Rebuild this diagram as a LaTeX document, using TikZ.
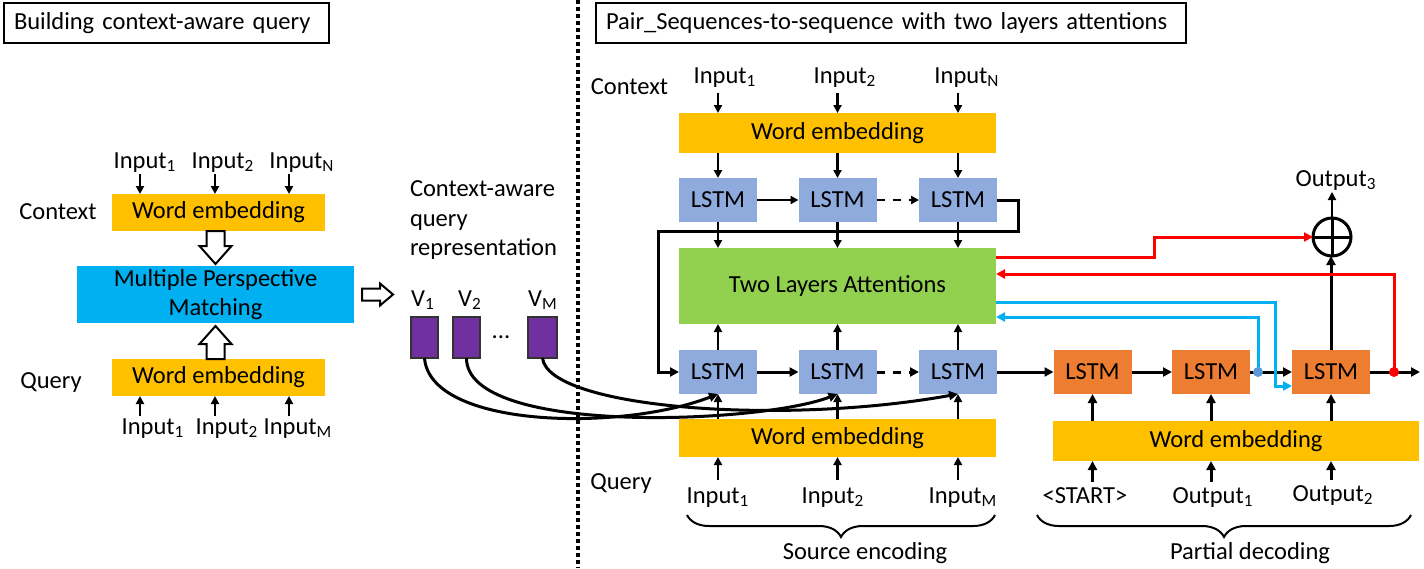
\documentclass[tikz,border=0pt]{standalone}
\usepackage{fontspec}
\setmainfont{Carlito}
\usetikzlibrary{arrows.meta,decorations.pathreplacing}
\definecolor{gold}{RGB}{255,192,0}
\definecolor{mpmblue}{RGB}{0,176,240}
\definecolor{lstmblue}{RGB}{143,170,220}
\definecolor{attgreen}{RGB}{146,208,80}
\definecolor{lstmorange}{RGB}{237,125,49}
\definecolor{vpurple}{RGB}{112,48,160}
\definecolor{cyanline}{RGB}{0,176,240}
\definecolor{dotblue}{RGB}{91,155,213}
\begin{document}
\begin{tikzpicture}[x=0.5pt,y=-0.5pt,
  font=\fontsize{12.25pt}{14.7pt}\selectfont,
  every node/.style={inner sep=0pt, outer sep=0pt},
  lab/.style={text height=9pt, text depth=3pt},
  ttl/.style={draw, line width=0.8pt, anchor=west, align=left, inner xsep=5pt, minimum height=20pt},
  we/.style={fill=gold},
  lb/.style={fill=lstmblue, minimum width=39pt, minimum height=22pt},
  lo/.style={fill=lstmorange, minimum width=39pt, minimum height=22pt},
  vbox/.style={fill=vpurple, draw=black!80, line width=0.6pt, minimum width=13.5pt, minimum height=20.5pt},
  arr/.style={line width=1.1pt, -{Triangle[length=4pt,width=4pt]}},
  tarr/.style={line width=1.5pt, -{Triangle[length=4.5pt,width=4.5pt]}},
  hol/.style={draw, line width=1pt, fill=white, line join=miter},
  rl/.style={draw=red, line width=1.5pt, -{Triangle[length=4.5pt,width=4.5pt]}},
  bl/.style={draw=cyanline, line width=1.5pt, -{Triangle[length=4.5pt,width=4.5pt]}},
  dsh/.style={dash pattern=on 4pt off 4pt},
  crv/.style={line width=1.5pt, -{Triangle[length=4.5pt,width=4.5pt]}},
  brc/.style={decorate, decoration={brace, mirror, amplitude=11pt}, line width=1pt},
]
\useasboundingbox (0,0) rectangle (1424,568);

% titles and separator
\node[ttl, text width=152.5pt] (tl) at (4,23) {Building context-aware query};
\node[ttl, text width=285pt] (tr) at (596,23) {Pair\_Sequences-to-sequence with two layers attentions};
\draw[line width=1.6pt, dash pattern=on 2pt off 1.5pt] (578,0) -- (578,568);

% ---------------- left panel ----------------
\node[lab] (ctxl) at (58,213) {Context};
\node[lab] (qryl) at (51,382) {Query};
\node[we, minimum width=106.5pt, minimum height=18.5pt] (wec) at (218.5,212.5) {Word embedding};
\node[we, minimum width=106.5pt, minimum height=18.5pt] (weq) at (218.5,377.5) {Word embedding};
\node[fill=mpmblue, minimum width=138.5pt, minimum height=28.5pt, align=center] (mpm) at (215.5,294.5) {Multiple Perspective\\Matching};

\node[lab] (ci1) at (145,162) {Input\textsubscript{1}};
\node[lab] (ci2) at (223,162) {Input\textsubscript{2}};
\node[lab] (ci3) at (302,162) {Input\textsubscript{N}};
\draw[arr] ([xshift=-2.5pt]ci1.south) -- ([xshift=-2.5pt]ci1.south |- wec.north);
\draw[arr] ([xshift=-4pt]ci2.south) -- ([xshift=-4pt]ci2.south |- wec.north);
\draw[arr] ([xshift=-6.5pt]ci3.south) -- ([xshift=-6.5pt]ci3.south |- wec.north);

\node[lab] (qi1) at (153,428) {Input\textsubscript{1}};
\node[lab] (qi2) at (227,428) {Input\textsubscript{2}};
\node[lab] (qi3) at (298,428) {Input\textsubscript{M}};
\draw[arr] ([xshift=-6.5pt]qi1.north) -- ([xshift=-6.5pt]qi1.north |- weq.south);
\draw[arr] ([xshift=-6pt]qi2.north) -- ([xshift=-6pt]qi2.north |- weq.south);
\draw[arr] ([xshift=-4.5pt]qi3.north) -- ([xshift=-4.5pt]qi3.north |- weq.south);

\coordinate (hd) at (mpm.north |- wec.south);
\draw[hol] ([xshift=-4.5pt]hd) -- ++(0,15) -- ++(-7,0) -- ++(16,18) -- ++(16,-18) -- ++(-7,0) -- ++(0,-15) -- cycle;
\coordinate (hu) at (mpm.south |- weq.north);
\draw[hol] ([xshift=-4.5pt]hu) -- ++(0,-15) -- ++(-7,0) -- ++(16,-18) -- ++(16,18) -- ++(-7,0) -- ++(0,15) -- cycle;
\draw[hol] ([xshift=4pt,yshift=3pt]mpm.east) -- ++(18,0) -- ++(0,-5) -- ++(13,11) -- ++(-13,11) -- ++(0,-5) -- ++(-18,0) -- cycle;

\node[anchor=north west, align=left] (car) at (410,181) {Context-aware\\query\\representation};
\node[lab] (vl1) at (423,300) {V\textsubscript{1}};
\node[lab] (vl2) at (470,300) {V\textsubscript{2}};
\node[lab] (vl3) at (543,300) {V\textsubscript{M}};
\node[vbox] (v1) at (424.5,337.5) {};
\node[vbox] (v2) at (466.5,337.5) {};
\node[vbox, minimum width=14.5pt] (vm) at (542.5,337.5) {};
\node[anchor=base] (dots) at (501,338) {...};

% ---------------- right panel ----------------
\node[lab] (ctxr) at (629.5,88) {Context};
\node[lab] (qryr) at (621,483) {Query};
\node[we, minimum width=158.5pt, minimum height=20pt] (weT) at (837.5,133) {Word embedding};
\node[lb] (a1) at (718,200) {LSTM};
\node[lb] (a2) at (837.5,200) {LSTM};
\node[lb] (a3) at (958,200) {LSTM};
\node[fill=attgreen, minimum width=158.5pt, minimum height=38pt] (att) at (837.5,286) {Two Layers Attentions};
\node[lb] (b1) at (718,372) {LSTM};
\node[lb] (b2) at (837.5,372) {LSTM};
\node[lb] (b3) at (958,372) {LSTM};
\node[we, minimum width=158.5pt, minimum height=19pt] (weB) at (837.5,438) {Word embedding};

\node[lab] (ti1) at (725,77) {Input\textsubscript{1}};
\node[lab] (ti2) at (845,77) {Input\textsubscript{2}};
\node[lab] (ti3) at (967,77) {Input\textsubscript{N}};
\draw[arr] ([yshift=-2pt]ti1.south -| a1.north) -- (a1.north |- weT.north);
\draw[arr] ([yshift=-2pt]ti2.south -| a2.north) -- (a2.north |- weT.north);
\draw[arr] ([yshift=-2pt]ti3.south -| a3.north) -- (a3.north |- weT.north);

\node[lab] (bi1) at (718,497) {Input\textsubscript{1}};
\node[lab] (bi2) at (833,497) {Input\textsubscript{2}};
\node[lab] (bi3) at (963,497) {Input\textsubscript{M}};
\draw[arr] ([yshift=2.5pt]bi1.north -| b1.south) -- (b1.south |- weB.south);
\draw[arr] ([yshift=2.5pt]bi2.north -| b2.south) -- (b2.south |- weB.south);
\draw[arr] ([yshift=2.5pt]bi3.north -| b3.south) -- (b3.south |- weB.south);

% encoder vertical arrows
\draw[arr] (a1.north |- weT.south) -- (a1.north);
\draw[arr] (a2.north |- weT.south) -- (a2.north);
\draw[arr] (a3.north |- weT.south) -- (a3.north);
\draw[arr] (a1.south) -- (a1.south |- att.north);
\draw[arr] (a2.south) -- (a2.south |- att.north);
\draw[arr] (a3.south) -- (a3.south |- att.north);
\draw[arr] (b1.north) -- (b1.north |- att.south);
\draw[arr] (b2.north) -- (b2.north |- att.south);
\draw[arr] (b3.north) -- (b3.north |- att.south);
\draw[arr] (b1.south |- weB.north) -- (b1.south);
\draw[arr] (b2.south |- weB.north) -- (b2.south);
\draw[arr] (b3.south |- weB.north) -- (b3.south);

% encoder horizontal arrows
\draw[arr] (a1.east) -- (a2.west);
\draw[arr, dsh] (a2.east) -- (a3.west);
\draw[tarr] (b1.east) -- (b2.west);
\draw[tarr, dsh] (b2.east) -- (b3.west);
\draw[tarr] (a3.east) -- ++(21,0) -- ++(0,31) -| ([xshift=-10.5pt]b1.west) -- (b1.west);

% curves from V boxes
\draw[crv] (v1.south) .. controls (430,428) and (620,432) .. (b1.south);
\draw[crv] (v2.south) .. controls (466,436) and (760,424) .. (b2.south);
\draw[crv] (vm.south) .. controls (548,408) and (780,426) .. (b3.south);

% decoder
\node[lo] (d1) at (1092.5,372) {LSTM};
\node[lo] (d2) at (1211,372) {LSTM};
\node[lo] (d3) at (1331,372) {LSTM};
\node[we, minimum width=183pt, minimum height=20pt] (weD) at (1236,441) {Word embedding};
\node[lab] (dl1) at (1085,497) {\textless START\textgreater};
\node[lab] (dl2) at (1213,497) {Output\textsubscript{1}};
\node[lab] (dl3) at (1333,495) {Output\textsubscript{2}};
\draw[tarr] ([yshift=1.5pt]dl1.north -| d1.south) -- (d1.south |- weD.south);
\draw[tarr] ([yshift=1.5pt]dl2.north -| d2.south) -- (d2.south |- weD.south);
\draw[tarr] ([yshift=1.5pt]dl3.north -| d3.south) -- (d3.south |- weD.south);
\draw[tarr] (d1.south |- weD.north) -- (d1.south);
\draw[tarr] (d2.south |- weD.north) -- (d2.south);
\draw[tarr] (d3.south |- weD.north) -- (d3.south);

\coordinate (rdot) at ([xshift=12pt]d3.east);
\coordinate (outp) at ([xshift=25pt]d3.east);
\coordinate (bdot) at ([xshift=4pt]d2.east);
\draw[tarr] (b3.east) -- (d1.west);
\draw[tarr] (d1.east) -- (d2.west);
\draw[tarr] (d2.east) -- (d3.west);
\draw[tarr] (d3.east) -- (outp);

\node[circle, draw, line width=1.5pt, minimum size=19pt] (op) at (1332,237) {};
\draw[line width=1.5pt] (op.north) -- (op.south) (op.west) -- (op.east);
\node[lab] (o3) at (1336,180) {Output\textsubscript{3}};
\draw[tarr] (d3.north) -- (d3.north |- op.south);
\draw[arr, line width=1.3pt] (op.north) -- (op.north |- o3.south);

% attention feedback lines
\draw[rl] ([yshift=14.5pt]att.east) -- ++(158,0) |- (op.west);
\draw[rl] (rdot) |- ([yshift=6pt]att.east);
\draw[bl] ([yshift=-8pt]att.east) -- ++(279,0) |- ([yshift=-7pt]d3.west);
\draw[bl] (bdot) |- ([yshift=-15.5pt]att.east);
\fill[red] (rdot) circle (2.5pt);
\fill[dotblue] (bdot) circle (2.5pt);

% braces
\draw[brc] (687,515) -- (995,515);
\node[lab] (srcenc) at (865,553) {Source encoding};
\draw[brc] (1037,515) -- (1411,515);
\node[lab] (pardec) at (1250,553) {Partial decoding};
\end{tikzpicture}
\end{document}
